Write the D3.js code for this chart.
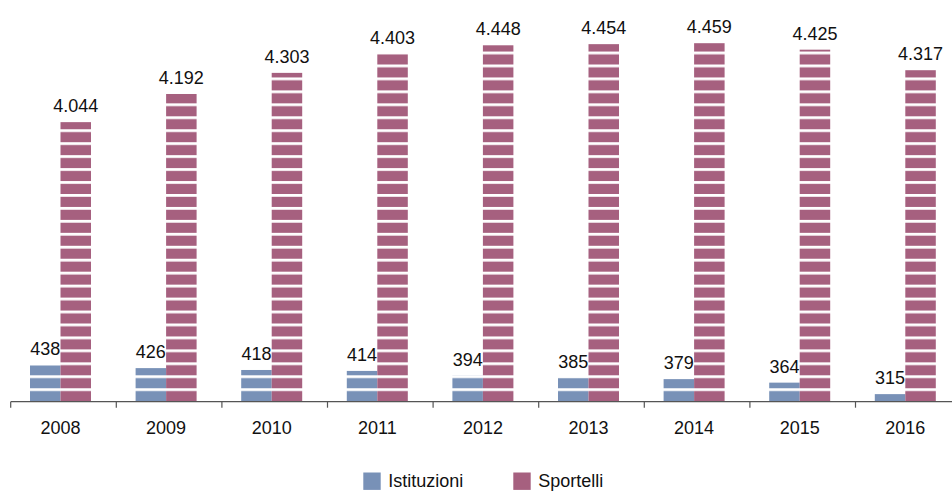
<!DOCTYPE html>
<html>
<head>
<meta charset="utf-8">
<script src="https://cdn.jsdelivr.net/npm/d3@7/dist/d3.min.js"></script>
<style>
  html, body { margin: 0; padding: 0; background: #ffffff; }
  svg { display: block; font-family: "Liberation Sans", Arial, Helvetica, sans-serif; }
</style>
</head>
<body>
<svg id="chart" width="952" height="492"></svg>
<script>
const years = ["2008", "2009", "2010", "2011", "2012", "2013", "2014", "2015", "2016"];
const istituzioni = [438, 426, 418, 414, 394, 385, 379, 364, 315];
const sportelli = [4044, 4192, 4303, 4403, 4448, 4454, 4459, 4425, 4317];
const seriesNames = ["Istituzioni", "Sportelli"];
const seriesColors = ["#7891b7", "#a6607f"];

const W = 952, H = 492;
const baseY = 401.2;
const svg = d3.select("#chart");

// x scales
const x = d3.scaleBand().domain(years).range([10.7, 10.7 + 105.6 * 9]).padding(0);
const groupOffset = 19.3;
const xs = d3.scaleBand().domain(seriesNames).range([0, 61]).padding(0);

// y scales (separate scales for the two series, non-zero baselines as in the original)
const yS = d3.scaleLinear().domain([2577, 4459]).range([baseY, 43.2]);
const yI = d3.scaleLinear().domain([284.8, 438]).range([baseY, 365.3]);

// striped patterns
const defs = svg.append("defs");
const period = 12.95, gap = 2.8;
seriesNames.forEach((name, i) => {
  const p = defs.append("pattern")
    .attr("id", "pat" + i)
    .attr("patternUnits", "userSpaceOnUse")
    .attr("x", 0).attr("y", baseY)
    .attr("width", 952).attr("height", period);
  p.append("rect").attr("x", 0).attr("y", 0).attr("width", 952).attr("height", period).attr("fill", seriesColors[i]);
  p.append("rect").attr("x", 0).attr("y", 0).attr("width", 952).attr("height", gap).attr("fill", "#ffffff");
});

const fmtIt = d3.formatLocale({ decimal: ",", thousands: ".", grouping: [3], currency: ["€", ""] }).format(",d");

const data = years.map((yr, i) => ({ year: yr, ist: istituzioni[i], spo: sportelli[i] }));

const g = svg.append("g");

// Istituzioni bars
g.selectAll(".bar-ist").data(data).join("rect")
  .attr("class", "bar-ist")
  .attr("x", d => x(d.year) + groupOffset + xs("Istituzioni"))
  .attr("width", xs.bandwidth())
  .attr("y", d => yI(d.ist))
  .attr("height", d => baseY - yI(d.ist))
  .attr("fill", "url(#pat0)");

// Sportelli bars
g.selectAll(".bar-spo").data(data).join("rect")
  .attr("class", "bar-spo")
  .attr("x", d => x(d.year) + groupOffset + xs("Sportelli"))
  .attr("width", xs.bandwidth())
  .attr("y", d => yS(d.spo))
  .attr("height", d => baseY - yS(d.spo))
  .attr("fill", "url(#pat1)");

// value labels
g.selectAll(".lab-ist").data(data).join("text")
  .attr("class", "lab-ist")
  .attr("x", d => x(d.year) + groupOffset + xs("Istituzioni") + xs.bandwidth() / 2)
  .attr("y", d => yI(d.ist) - 10)
  .attr("text-anchor", "middle")
  .attr("font-size", 18)
  .attr("fill", "#111")
  .text(d => fmtIt(d.ist));

g.selectAll(".lab-spo").data(data).join("text")
  .attr("class", "lab-spo")
  .attr("x", d => x(d.year) + groupOffset + xs("Sportelli") + xs.bandwidth() / 2)
  .attr("y", d => yS(d.spo) - 10)
  .attr("text-anchor", "middle")
  .attr("font-size", 18)
  .attr("fill", "#111")
  .text(d => fmtIt(d.spo));

// x axis
const axisY = 401.7;
const ax = svg.append("g").attr("class", "x-axis");
ax.append("line")
  .attr("x1", x.range()[0]).attr("x2", W)
  .attr("y1", axisY).attr("y2", axisY)
  .attr("stroke", "#555").attr("stroke-width", 1.2);
ax.selectAll(".tick").data(years).join("line")
  .attr("class", "tick")
  .attr("x1", d => x(d)).attr("x2", d => x(d))
  .attr("y1", axisY).attr("y2", axisY + 6)
  .attr("stroke", "#555").attr("stroke-width", 1.2);
ax.selectAll(".tick-label").data(years).join("text")
  .attr("class", "tick-label")
  .attr("x", d => x(d) + groupOffset + xs.bandwidth())
  .attr("y", 434.3)
  .attr("text-anchor", "middle")
  .attr("font-size", 18)
  .attr("fill", "#111")
  .text(d => d);

// legend
const legendX = [363.3, 513.3];
const leg = svg.append("g").attr("class", "legend");
seriesNames.forEach((name, i) => {
  leg.append("rect")
    .attr("x", legendX[i]).attr("y", 472.5)
    .attr("width", 17.4).attr("height", 17.4)
    .attr("fill", seriesColors[i]);
  leg.append("text")
    .attr("x", legendX[i] + 25)
    .attr("y", 486.5)
    .attr("font-size", 18)
    .attr("fill", "#111")
    .text(name);
});
</script>
</body>
</html>
